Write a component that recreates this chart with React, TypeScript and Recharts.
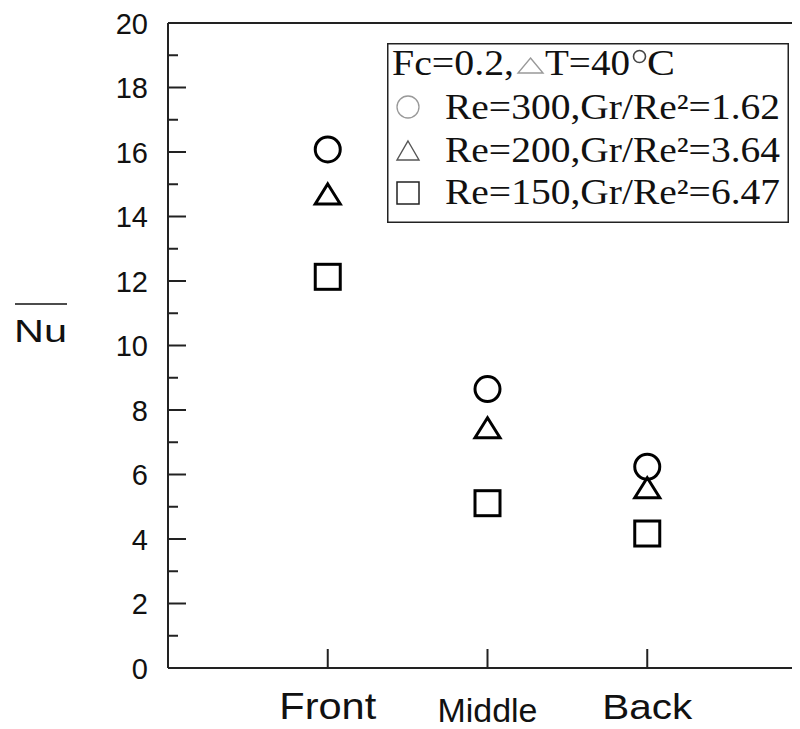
import { Scatter, ScatterChart, XAxis, YAxis } from 'recharts';

const categories = ['Front', 'Middle', 'Back'];
const categoryX = [1, 2, 3];
const re300 = [16.08, 8.65, 6.24];
const re200 = [14.7, 7.45, 5.59];
const re150 = [12.13, 5.11, 4.17];
const yTicks = [0, 1, 2, 3, 4, 5, 6, 7, 8, 9, 10, 11, 12, 13, 14, 15, 16, 17, 18, 19, 20];
const legendRows = ['Re=300,Gr/Re²=1.62', 'Re=200,Gr/Re²=3.64', 'Re=150,Gr/Re²=6.47'];

const INK = '#222';
const SANS = '"Liberation Sans", Arial, sans-serif';
const SERIF = '"Liberation Serif", "Times New Roman", serif';

const toPoints = (values: number[]) =>
  values.map((v, i) => ({ x: categoryX[i], y: v, name: categories[i] }));

// label widths / sizes
const catWidth: Record<string, number> = { Front: 97, Middle: 100, Back: 90 };
const catSize: Record<string, number> = { Front: 36, Middle: 33, Back: 35 };
const catBase: Record<string, number> = { Front: 51, Middle: 54, Back: 51 };

function BottomTick({ x, y, payload }: any) {
  const name = categories[categoryX.indexOf(payload.value)] ?? '';
  return (
    <g>
      <line x1={x} y1={y} x2={x} y2={y - 19} stroke={INK} strokeWidth={2} />
      <text
        x={x}
        y={y + catBase[name]}
        textAnchor="middle"
        fontFamily={SANS}
        fontSize={catSize[name]}
        fill="#111"
        textLength={catWidth[name]}
        lengthAdjust="spacingAndGlyphs"
      >
        {name}
      </text>
    </g>
  );
}

function TopTick({ x, y }: any) {
  return <line x1={x} y1={y} x2={x} y2={y + 20} stroke={INK} strokeWidth={2} />;
}

function LeftTick({ x, y, payload }: any) {
  const major = payload.value % 2 === 0;
  return (
    <g>
      <line x1={x} y1={y} x2={x + (major ? 18 : 10)} y2={y} stroke={INK} strokeWidth={2} />
      {major && (
        <text x={x - 20} y={y + 10.5} textAnchor="end" fontFamily={SANS} fontSize={29} fill="#111">
          {payload.value}
        </text>
      )}
    </g>
  );
}

function RightTick({ x, y, payload }: any) {
  const major = payload.value % 2 === 0;
  return <line x1={x} y1={y} x2={x - (major ? 18 : 10)} y2={y} stroke={INK} strokeWidth={2} />;
}

function CircleMark({ cx, cy }: any) {
  return <circle cx={cx} cy={cy} r={12.5} fill="none" stroke="#000" strokeWidth={3} />;
}

function TriangleMark({ cx, cy }: any) {
  return (
    <path
      d={`M${cx},${cy - 10} L${cx + 12.5},${cy + 10} L${cx - 12.5},${cy + 10} Z`}
      fill="none"
      stroke="#000"
      strokeWidth={3}
    />
  );
}

function SquareMark({ cx, cy }: any) {
  return <rect x={cx - 12.5} y={cy - 12.5} width={25} height={25} fill="none" stroke="#000" strokeWidth={3} />;
}

function LegendBox() {
  const t = { fontFamily: SERIF, fontSize: 35, fill: '#111', lengthAdjust: 'spacingAndGlyphs' as const };
  return (
    <svg width={402} height={180} style={{ position: 'absolute', left: 379, top: 35 }}>
      <rect x={0.75} y={0.75} width={400.5} height={178.5} fill="#fff" stroke={INK} strokeWidth={1.5} />
      {/* title: Fc=0.2,△T=40°C */}
      <text x={5} y={32} textLength={122} {...t}>Fc=0.2,</text>
      <path d="M143.5,15 L156,30 L131,30 Z" fill="none" stroke="#999" strokeWidth={1.4} />
      <text x={158} y={32} textLength={85} {...t}>T=40</text>
      <circle cx={252.5} cy={13.5} r={6} fill="none" stroke="#444" strokeWidth={1.6} />
      <text x={260} y={32} textLength={28} {...t}>C</text>
      <circle cx={21} cy={64} r={11} fill="none" stroke="#999" strokeWidth={1.3} />
      <path d="M21,98 L32,117 L10,117 Z" fill="none" stroke="#555" strokeWidth={1.4} />
      <rect x={10} y={139} width={22} height={22} fill="none" stroke="#222" strokeWidth={1.5} />
      {legendRows.map((row, i) => (
        <text key={row} x={58} y={76 + i * 42.5} textLength={335} {...t}>
          {row}
        </text>
      ))}
    </svg>
  );
}

function NuLabel() {
  return (
    <svg width={70} height={60} style={{ position: 'absolute', left: 0, top: 285 }}>
      <line x1={7} y1={11} x2={59} y2={11} stroke="#111" strokeWidth={1.5} />
      <text x={6} y={49} fontFamily={SANS} fontSize={31} fill="#111" textLength={53} lengthAdjust="spacingAndGlyphs">
        Nu
      </text>
    </svg>
  );
}

export default function App() {
  return (
    <div style={{ position: 'relative', width: 792, height: 721, overflow: 'hidden', background: '#fff' }}>
      <ScatterChart width={821} height={721} margin={{ top: 0, right: 0, bottom: 0, left: 0 }}>
        <XAxis
          xAxisId="bottom"
          type="number"
          dataKey="x"
          domain={[0, 4]}
          ticks={categoryX}
          interval={0}
          height={61}
          tickSize={0}
          tickMargin={0}
          tickLine={false}
          axisLine={{ stroke: INK, strokeWidth: 2 }}
          tick={<BottomTick />}
        />
        <XAxis
          xAxisId="top"
          orientation="top"
          type="number"
          domain={[0, 4]}
          ticks={categoryX}
          interval={0}
          height={15}
          tickSize={0}
          tickMargin={0}
          tickLine={false}
          axisLine={{ stroke: INK, strokeWidth: 2 }}
          tick={<TopTick />}
        />
        <YAxis
          yAxisId="left"
          type="number"
          dataKey="y"
          domain={[0, 20]}
          ticks={yTicks}
          interval={0}
          width={160}
          tickSize={0}
          tickMargin={0}
          tickLine={false}
          axisLine={{ stroke: INK, strokeWidth: 2 }}
          tick={<LeftTick />}
        />
        <YAxis
          yAxisId="right"
          orientation="right"
          type="number"
          domain={[0, 20]}
          ticks={yTicks}
          interval={0}
          width={22}
          tickSize={0}
          tickMargin={0}
          tickLine={false}
          axisLine={{ stroke: INK, strokeWidth: 2 }}
          tick={<RightTick />}
        />
        <Scatter
          name="Re=300"
          data={toPoints(re300)}
          xAxisId="bottom"
          yAxisId="left"
          shape={<CircleMark />}
          isAnimationActive={false}
        />
        <Scatter
          name="Re=200"
          data={toPoints(re200)}
          xAxisId="bottom"
          yAxisId="left"
          shape={<TriangleMark />}
          isAnimationActive={false}
        />
        <Scatter
          name="Re=150"
          data={toPoints(re150)}
          xAxisId="bottom"
          yAxisId="left"
          shape={<SquareMark />}
          isAnimationActive={false}
        />
      </ScatterChart>
      <LegendBox />
      <NuLabel />
    </div>
  );
}
